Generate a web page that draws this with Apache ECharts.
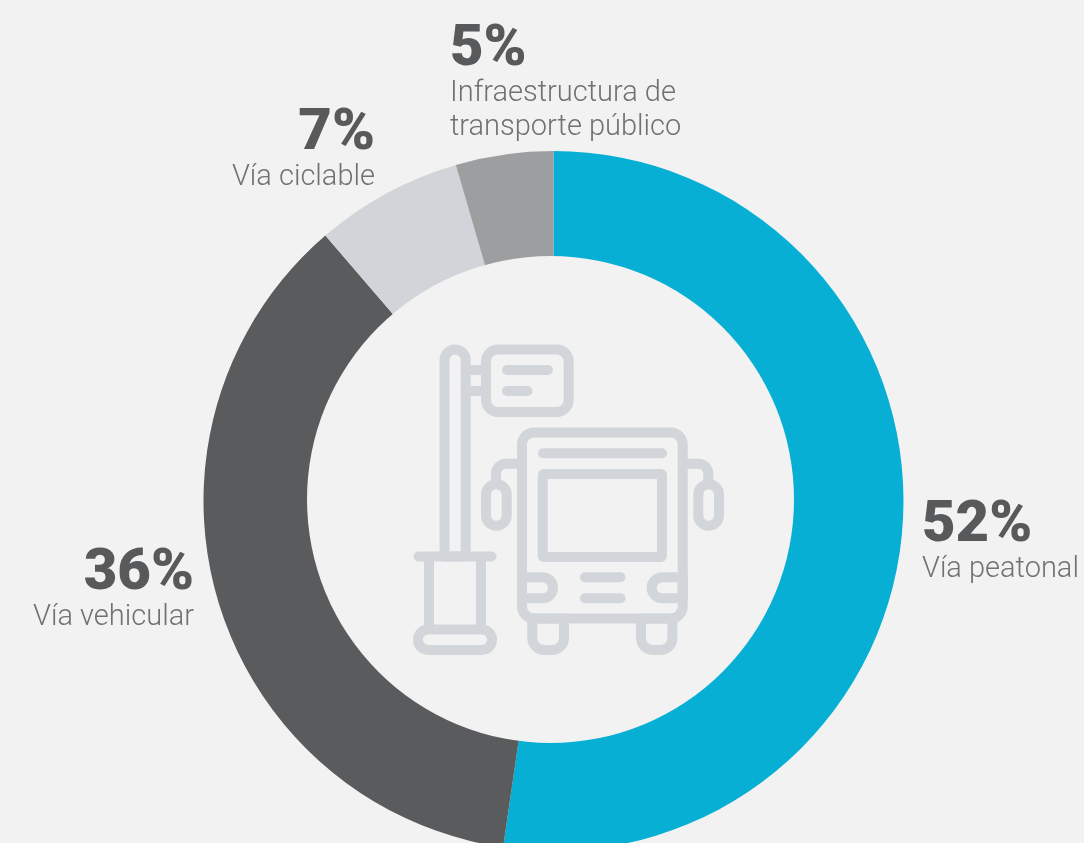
<!DOCTYPE html>
<html>
<head>
<meta charset="utf-8">
<style>html,body{margin:0;padding:0;background:#f2f2f2;overflow:hidden}#c{width:1084px;height:843px}</style>
<script src="https://cdn.jsdelivr.net/npm/echarts@6/dist/echarts.min.js"></script>
</head>
<body>
<div id="c"></div>
<script>
const categories = ['Vía peatonal', 'Vía vehicular', 'Vía ciclable', 'Infraestructura de\ntransporte público'];
const values = [52.3, 36.4, 6.8, 4.5];
const percentLabels = ['52%', '36%', '7%', '5%'];
const sliceColors = ['#07afd4', '#5a5b5d', '#d1d4d8', '#9c9ea0'];
const labelSpots = [
  {x: 922, y: 500, align: 'left'},
  {x: 194, y: 548, align: 'right'},
  {x: 375, y: 108, align: 'right'},
  {x: 450, y: 24, align: 'left'}
];
const PAGE = '#f2f2f2';
const ICON = '#d2d5d9';
const strokeStyle = {fill: 'none', stroke: ICON, lineWidth: 10, lineCap: 'round', lineJoin: 'round'};
const box = (x, y, w, h, r) => ({type: 'rect', z: 10, shape: {x, y, width: w, height: h, r}, style: strokeStyle});
const seg = (x1, y1, x2, y2) => ({type: 'line', z: 10, shape: {x1, y1, x2, y2}, style: strokeStyle});
const curve = (cx, cy, r, a, b) => ({type: 'arc', z: 10, shape: {cx, cy, r, startAngle: a, endAngle: b, clockwise: true}, style: strokeStyle});
const PI = Math.PI;
const iconParts = [
  {type: 'circle', z: 5, shape: {cx: 550.5, cy: 499.5, r: 243.5}, style: {fill: PAGE}},
  box(444.5, 349.5, 21.2, 207, [10.6, 10.6, 0, 0]),
  box(486, 349.5, 82.7, 62.5, 12),
  seg(466, 370, 486, 370), seg(466, 391, 486, 391),
  seg(507, 370, 548, 370), seg(507, 391, 527.5, 391),
  seg(418.5, 556.5, 491.5, 556.5),
  seg(429, 557, 429, 628), seg(481, 557, 481, 628),
  box(418, 629.5, 74, 20.5, 10),
  box(522, 432.5, 160.7, 186, 12),
  seg(543, 453.3, 662, 453.3),
  box(542.7, 474, 119.3, 83, 1),
  seg(585, 577.3, 620.5, 577.3), seg(585, 598.3, 620.5, 598.3),
  box(522, 577.3, 31, 21, [0, 10.5, 10.5, 0]),
  box(651.7, 577.3, 31, 21, [10.5, 0, 0, 10.5]),
  box(532.3, 618.5, 31.7, 31.5, [0, 0, 12, 12]),
  box(641, 618.5, 31.4, 31.5, [0, 0, 12, 12]),
  box(486, 484.3, 20.7, 41.4, 10.3),
  box(698.3, 484.3, 20.7, 41.4, 10.3),
  seg(506, 463.7, 522, 463.7), curve(506, 473.7, 10, PI, PI * 1.5), seg(496, 473.7, 496, 484),
  seg(683, 463.7, 698.3, 463.7), curve(698.3, 473.7, 10, PI * 1.5, PI * 2), seg(708.3, 473.7, 708.3, 484)
];
const chart = echarts.init(document.getElementById('c'), null, {renderer: 'canvas'});
chart.setOption({
  backgroundColor: PAGE,
  animation: false,
  graphic: {elements: iconParts},
  series: [{
    type: 'pie',
    center: [553.5, 501],
    radius: [225, 350],
    startAngle: 90,
    clockwise: true,
    silent: true,
    avoidLabelOverlap: false,
    labelLine: {show: false},
    label: {
      show: true,
      formatter: p => {
        const names = p.name.split('\n').map(s => '{n|' + s + '}').join('\n');
        return '{v|' + percentLabels[p.dataIndex] + '}\n' + names;
      },
      rich: {
        v: {fontFamily: 'Roboto', fontWeight: 900, fontSize: 58, lineHeight: 53, color: '#58595b'},
        n: {fontFamily: 'Roboto', fontWeight: 300, fontSize: 29, lineHeight: 34, color: '#707174'}
      }
    },
    labelLayout: p => ({x: labelSpots[p.dataIndex].x, y: labelSpots[p.dataIndex].y, align: labelSpots[p.dataIndex].align, verticalAlign: 'top'}),
    data: categories.map((name, i) => ({name, value: values[i], itemStyle: {color: sliceColors[i]}}))
  }]
});
</script>
</body>
</html>
